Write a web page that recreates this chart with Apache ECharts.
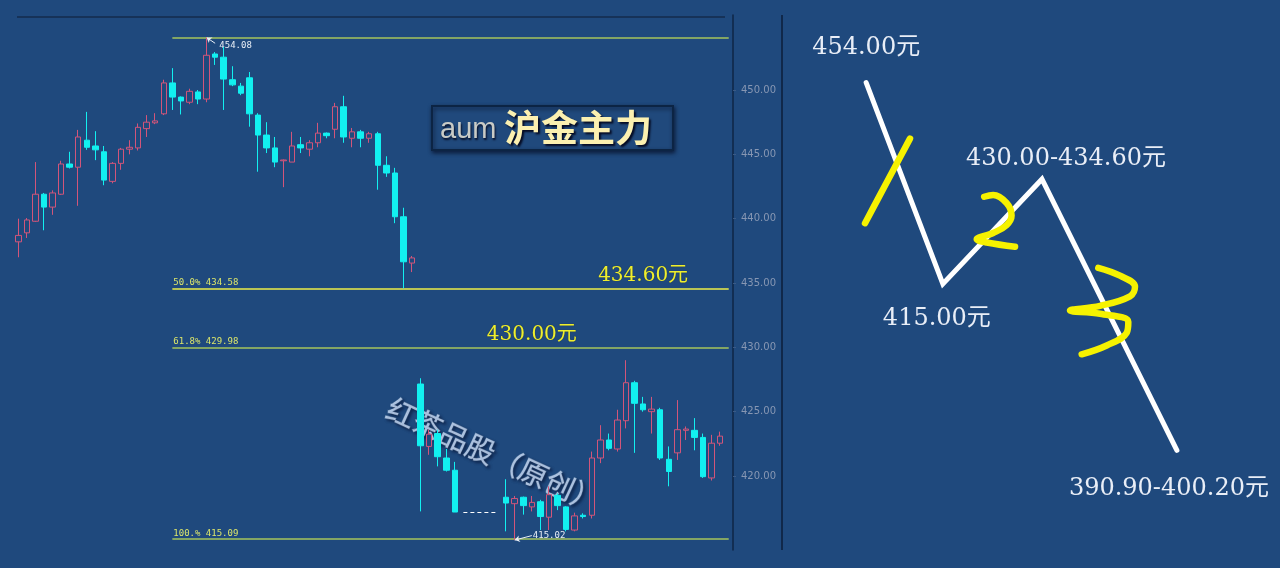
<!DOCTYPE html>
<html><head><meta charset="utf-8">
<script src="https://cdn.jsdelivr.net/npm/echarts@6/dist/echarts.min.js"></script>
<style>html,body{margin:0;padding:0;background:#1f497d;}#c{width:1280px;height:568px;}</style>
</head><body><div id="c"></div>
<script>
const categories = Array.from({length: 84}, (_, i) => String(i + 1));
const openVals = [438.2,438.9,439.8,441.9,440.9,441.9,444.25,444.0,446.1,445.65,
445.2,442.9,444.3,445.4,445.5,447.0,447.45,448.15,450.55,449.45,
449.05,449.85,449.3,452.8,452.55,450.8,450.3,450.95,448.05,446.5,
445.5,444.5,444.4,445.75,445.4,445.9,446.65,446.95,448.7,446.25,
446.75,446.25,446.6,444.15,443.55,440.15,436.55,
427.15,422.3,423.3,421.4,420.45,
null,null,null,null,null,
418.35,417.85,418.35,417.6,418.0,416.8,418.5,417.6,415.8,416.95,
416.95,421.4,422.8,422.1,424.3,427.25,425.6,425.0,425.15,421.3,
421.8,423.55,423.55,423.0,419.85,422.55,null];
const closeVals = [438.7,439.9,441.9,440.9,442.0,444.25,444.0,446.35,445.55,445.35,
443.0,444.3,445.4,445.55,447.1,447.5,447.6,450.55,449.45,449.15,
449.9,449.3,452.7,452.55,450.85,450.4,449.75,448.15,446.5,445.5,
444.4,444.56,445.65,445.5,445.9,446.65,446.45,448.7,446.35,446.75,
446.25,446.6,444.15,443.55,440.15,436.65,436.95,
422.35,423.25,421.5,420.45,417.2,
null,null,null,null,null,
417.9,418.25,417.7,417.95,416.85,418.55,417.7,415.85,416.9,416.85,
421.4,422.8,422.15,424.35,427.25,425.65,425.15,425.2,421.4,420.35,
423.6,423.65,423.0,419.95,422.55,423.1,null];
const lowVals = [437.0,438.5,439.75,439.1,440.3,441.85,443.9,441.0,445.35,444.55,
442.6,442.75,443.8,445.0,445.3,446.35,447.35,448.05,448.45,448.1,
448.9,448.9,449.05,451.95,448.45,450.3,449.6,447.15,443.65,445.1,
444.0,442.45,444.4,445.1,444.85,445.55,446.25,446.25,445.9,445.55,
445.55,445.9,442.25,443.25,439.65,434.58,435.85,
417.25,421.65,420.75,420.35,417.2,
null,null,null,null,null,
415.7,415.02,417.0,417.25,415.8,415.8,417.35,415.7,415.7,416.7,
416.7,421.0,422.0,421.9,423.7,421.8,425.0,423.3,421.25,419.2,
421.25,422.8,422.0,419.85,419.65,422.35,null];
const highVals = [440.0,440.05,444.4,442.0,442.2,444.5,445.2,446.9,448.3,446.8,
445.65,444.4,445.5,446.1,447.4,448.05,448.2,450.8,451.7,449.5,
450.1,450.0,454.08,452.95,453.35,451.85,450.55,451.4,448.2,447.5,
446.35,444.6,446.75,446.35,446.1,447.45,446.7,449.0,449.55,447.05,
446.9,446.75,446.75,444.85,443.95,440.85,437.1,
427.6,423.6,423.6,422.1,421.1,
null,null,null,null,null,
419.75,418.45,418.4,418.45,418.15,419.2,418.65,417.65,417.15,417.1,
421.9,423.95,423.3,425.15,429.0,427.4,426.15,426.15,425.3,422.3,
425.9,423.85,424.5,423.3,423.2,423.45,null];

const yTicks = [420, 425, 430, 435, 440, 445, 450];
const fibLevels = [454.08, 434.58, 429.98, 415.09];
const fibLabels = ['', '50.0% 434.58', '61.8% 429.98', '100.% 415.09'];
const fibColors = ['#a6c45c', '#eeee48', '#a6c45c', '#a6c45c'];
const highMark = {idx: 22, value: 454.08, label: '454.08'};
const lowMark = {idx: 58, value: 415.02, label: '415.02'};
const gapLine = {from: 52, to: 56, value: 417.19};
const targetNotes = [{idx: 73, value: 434.6, label: '434.60元'}, {idx: 60, value: 430.0, label: '430.00元'}];

// schematic wave (right panel): x = step, y = price-like scale
const waveX = [1.69, 3.23, 5.22, 7.93];
const waveY = [454.0, 415.0, 435.3, 382.8];
const waveLabels = ['454.00元', '415.00元', '430.00-434.60元', '390.90-400.20元'];
const stroke1 = [[1.667, 426.77], [2.12, 435.0], [2.57, 443.15]];
const stroke2 = [[4.06,431.9],[4.24,432.24],[4.51,430.69],[4.61,428.25],[4.51,426.41],[4.24,424.88],[3.91,423.65],[4.11,423.04],[4.68,422.23]];
const stroke3 = [[6.351,418.13],[6.787,416.60],[7.088,414.45],[6.988,412.61],[6.386,410.77],[5.783,409.85],[6.386,409.24],[6.954,407.70],[6.922,405.56],[6.520,403.10],[6.018,401.39]];

const BG = '#1f497d';
const RED = '#d2557a';
const CYAN = '#12f0f0';

const candleData = categories.map((c, i) => openVals[i] == null ? '-' :
  [openVals[i], closeVals[i], lowVals[i], highVals[i]]);

const lastIdx = categories.length - 1;
const markLineData = [];
fibLevels.forEach((v, k) => {
  markLineData.push([
    {coord: [18, v], symbol: 'none', lineStyle: {color: fibColors[k], width: 1.5, type: 'solid'},
     label: {show: !!fibLabels[k], position: 'insideStartTop', formatter: fibLabels[k], color: '#dce66a',
       fontSize: 9, fontFamily: 'DejaVu Sans Mono', distance: 1}},
    {coord: [lastIdx, v], symbol: 'none'}
  ]);
});
markLineData.push([
  {coord: [highMark.idx, highMark.value], symbol: 'arrow', symbolSize: 5, lineStyle: {color: '#e8eef6', width: 1, type: 'solid'},
   label: {show: true, position: 'end', formatter: highMark.label, color: '#e8eef6', fontSize: 9, fontFamily: 'DejaVu Sans Mono', distance: 5}},
  {coord: [highMark.idx + 1, highMark.value - 0.45], symbol: 'none'}
]);
markLineData.push([
  {coord: [lowMark.idx, lowMark.value], symbol: 'arrow', symbolSize: 5, lineStyle: {color: '#e8eef6', width: 1, type: 'solid'},
   label: {show: true, position: 'end', formatter: lowMark.label, color: '#e8eef6', fontSize: 9, fontFamily: 'DejaVu Sans Mono', distance: 1}},
  {coord: [lowMark.idx + 2, lowMark.value + 0.35], symbol: 'none'}
]);
markLineData.push([
  {coord: [gapLine.from, gapLine.value], symbol: 'none', lineStyle: {color: '#ffffff', width: 1, type: [4, 3]}, label: {show: false}},
  {coord: [gapLine.to, gapLine.value], symbol: 'none'}
]);

const chart = echarts.init(document.getElementById('c'));
chart.setOption({
  backgroundColor: BG,
  animation: false,
  grid: [
    {left: 14, right: 547, top: 15, bottom: 18},
    {left: 782, right: 0, top: -7, bottom: -23}
  ],
  xAxis: [
    {type: 'category', gridIndex: 0, data: categories, show: false, boundaryGap: true},
    {type: 'value', gridIndex: 1, min: 0, max: 10, show: false}
  ],
  yAxis: [
    {type: 'value', gridIndex: 0, position: 'right', min: 414.25, max: 455.83, scale: true,
     axisLine: {show: true, lineStyle: {color: '#0f2646', width: 1.5}},
     axisTick: {show: true, length: 3, inside: false, customValues: yTicks, lineStyle: {color: '#3a5a86'}},
     axisLabel: {show: true, customValues: yTicks, formatter: v => v.toFixed(2), color: '#8797b3', fontSize: 10,
       fontFamily: 'DejaVu Sans', margin: 8},
     splitLine: {show: false}},
    {type: 'value', gridIndex: 1, min: 360, max: 470, show: false}
  ],
  series: [
    {type: 'candlestick', xAxisIndex: 0, yAxisIndex: 0, data: candleData, barWidth: 6, zlevel: 1, z: 5,
     itemStyle: {color: BG, color0: CYAN, borderColor: RED, borderColor0: CYAN, borderWidth: 1},
     markLine: {silent: true, symbol: 'none', animation: false, data: markLineData},
     markPoint: {silent: true, symbol: 'circle', symbolSize: 1, itemStyle: {color: 'rgba(0,0,0,0)'},
       data: targetNotes.map(t => ({coord: [t.idx, t.value],
         label: {show: true, position: 'top', distance: 2, formatter: t.label, color: '#eeee2e', fontSize: 20,
           fontFamily: 'DejaVu Serif, Noto Sans CJK SC', textShadowColor: 'rgba(40,40,0,0.6)', textShadowBlur: 1}}))}
    },
    {type: 'line', xAxisIndex: 1, yAxisIndex: 1, data: waveX.map((x, i) => [x, waveY[i]]),
     symbol: 'none', lineStyle: {color: '#ffffff', width: 5, cap: 'round', join: 'miter'},
     z: 3, silent: true,
     markPoint: {symbol: 'circle', symbolSize: 1, itemStyle: {color: 'rgba(0,0,0,0)'},
       data: [
         {coord: [waveX[0], waveY[0]], label: {position: 'top', distance: 22, offset: [0, 0]}},
         {coord: [waveX[1], waveY[1]], label: {position: 'bottom', distance: 22, offset: [-6, 0]}},
         {coord: [waveX[2], waveY[2]], label: {position: 'top', distance: 8, offset: [24, 0]}},
         {coord: [waveX[3], waveY[3]], label: {position: 'bottom', distance: 26, offset: [-8, 0]}}
       ].map((d, i) => Object.assign(d, {label: Object.assign(d.label, {show: true, formatter: waveLabels[i],
         color: '#e9eef7', fontSize: 24, fontFamily: 'DejaVu Serif, Noto Sans CJK SC'})}))}
    },
    {type: 'line', xAxisIndex: 1, yAxisIndex: 1, data: stroke1, symbol: 'none', smooth: 0.3, z: 4, silent: true,
     lineStyle: {color: '#f6f200', width: 6.5, cap: 'round', join: 'round'}},
    {type: 'line', xAxisIndex: 1, yAxisIndex: 1, data: stroke2, symbol: 'none', smooth: 0.4, z: 4, silent: true,
     lineStyle: {color: '#f6f200', width: 6.5, cap: 'round', join: 'round'}},
    {type: 'line', xAxisIndex: 1, yAxisIndex: 1, data: stroke3, symbol: 'none', smooth: 0.4, z: 4, silent: true,
     lineStyle: {color: '#f6f200', width: 6.5, cap: 'round', join: 'round'}}
  ],
  graphic: [
    {type: 'line', z: 0, shape: {x1: 17, y1: 17, x2: 725, y2: 17}, style: {stroke: '#163258', lineWidth: 2}, silent: true},
    {type: 'line', z: 0, shape: {x1: 782, y1: 15, x2: 782, y2: 550}, style: {stroke: '#10284a', lineWidth: 2}, silent: true},
    {type: 'rect', z: 0, shape: {x: 432, y: 106, width: 241, height: 44},
     style: {fill: '#20497c', stroke: '#0c2444', lineWidth: 2, shadowBlur: 4, shadowColor: 'rgba(0,0,20,0.6)', shadowOffsetX: 1, shadowOffsetY: 2}, silent: true},
    {type: 'text', z: 1, x: 440, y: 130, silent: true,
     style: {text: 'aum', font: '29px "Liberation Sans", Arial, sans-serif', verticalAlign: 'middle',
       fill: '#c9cbc6', textShadowColor: 'rgba(0,0,20,0.8)', textShadowBlur: 2, textShadowOffsetX: 1, textShadowOffsetY: 2}},
    {type: 'text', z: 1, x: 504, y: 128, silent: true,
     style: {text: '沪金主力', font: 'bold 37px "Noto Sans CJK SC", sans-serif', verticalAlign: 'middle',
       fill: '#fbf0b0', textShadowColor: 'rgba(0,0,20,0.85)', textShadowBlur: 2, textShadowOffsetX: 2, textShadowOffsetY: 2}},
    {type: 'text', z: 0, x: 494, y: 455, rotation: -0.43, silent: true,
     style: {text: '红茶品股（原创）', font: '29px "Noto Sans CJK SC", sans-serif', align: 'center', verticalAlign: 'middle',
       fill: 'rgba(200,220,246,0.82)', stroke: 'rgba(235,245,255,0.35)', lineWidth: 1,
       textShadowColor: 'rgba(0,10,40,0.75)', textShadowBlur: 3, textShadowOffsetX: 2, textShadowOffsetY: 2}}
  ]
});
</script></body></html>
